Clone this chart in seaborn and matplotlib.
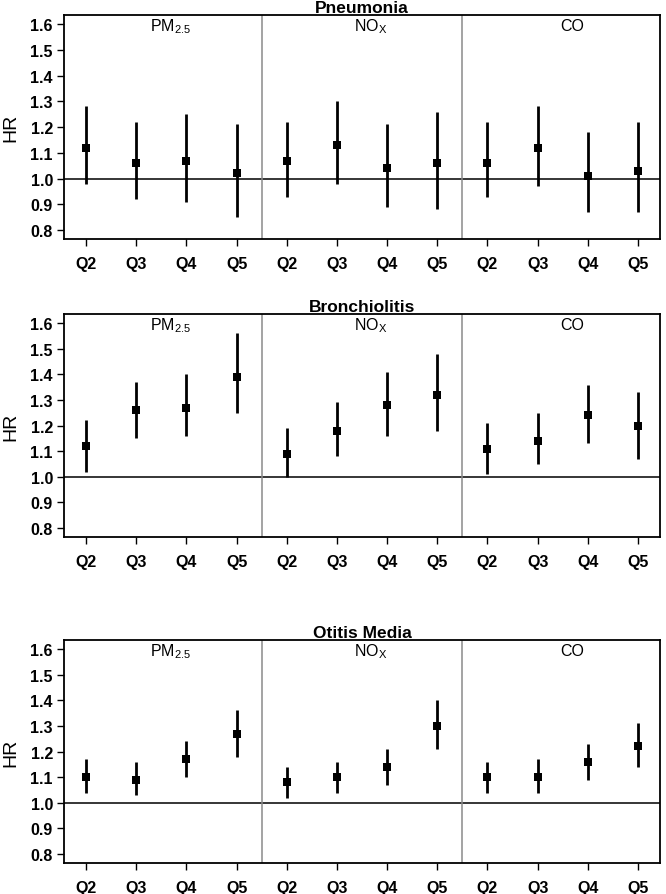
import matplotlib
matplotlib.use('Agg')
import matplotlib.pyplot as plt
import seaborn as sns
import pandas as pd

# quintile labels and pollutant groups
QUINTILES = ['Q2', 'Q3', 'Q4', 'Q5']
POLLUTANTS = [r'PM$_{2.5}$', r'NO$_{X}$', 'CO']
OUTCOMES = ['Pneumonia', 'Bronchiolitis', 'Otitis Media']

# hazard ratios (PM2.5 Q2-Q5, NOx Q2-Q5, CO Q2-Q5)
pneumonia_hr = [1.12, 1.06, 1.07, 1.02, 1.07, 1.13, 1.04, 1.06, 1.06, 1.12, 1.01, 1.03]
pneumonia_lo = [0.98, 0.92, 0.91, 0.85, 0.93, 0.98, 0.89, 0.88, 0.93, 0.97, 0.87, 0.87]
pneumonia_hi = [1.28, 1.22, 1.25, 1.21, 1.22, 1.30, 1.21, 1.26, 1.22, 1.28, 1.18, 1.22]

bronch_hr = [1.12, 1.26, 1.27, 1.39, 1.09, 1.18, 1.28, 1.32, 1.11, 1.14, 1.24, 1.20]
bronch_lo = [1.02, 1.15, 1.16, 1.25, 1.00, 1.08, 1.16, 1.18, 1.01, 1.05, 1.13, 1.07]
bronch_hi = [1.22, 1.37, 1.40, 1.56, 1.19, 1.29, 1.41, 1.48, 1.21, 1.25, 1.36, 1.33]

otitis_hr = [1.10, 1.09, 1.17, 1.27, 1.08, 1.10, 1.14, 1.30, 1.10, 1.10, 1.16, 1.22]
otitis_lo = [1.04, 1.03, 1.10, 1.18, 1.02, 1.04, 1.07, 1.21, 1.04, 1.04, 1.09, 1.14]
otitis_hi = [1.17, 1.16, 1.24, 1.36, 1.14, 1.16, 1.21, 1.40, 1.16, 1.17, 1.23, 1.31]

Y_TICKS = [0.8, 0.9, 1.0, 1.1, 1.2, 1.3, 1.4, 1.5, 1.6]

sns.set_style('ticks')
plt.rcParams['font.family'] = ['Liberation Sans', 'DejaVu Sans']
plt.rcParams['mathtext.default'] = 'regular'
for key in ['text.color', 'axes.labelcolor', 'xtick.color', 'ytick.color']:
    plt.rcParams[key] = 'black'

SERIES = [
    (pneumonia_hr, pneumonia_lo, pneumonia_hi),
    (bronch_hr, bronch_lo, bronch_hi),
    (otitis_hr, otitis_lo, otitis_hi),
]

# axes boxes in figure fraction: left, bottom, width, height
BOXES = [
    [0.0961, 0.7318, 0.8949, 0.2503],
    [0.0961, 0.3989, 0.8949, 0.2491],
    [0.0961, 0.0346, 0.8949, 0.2492],
]

fig = plt.figure(figsize=(6.66, 8.95), dpi=100)

for outcome, (hr, lo, hi), box in zip(OUTCOMES, SERIES, BOXES):
    ax = fig.add_axes(box)
    df = pd.DataFrame({
        'pos': range(len(hr)),
        'hr': hr, 'lo': lo, 'hi': hi,
    })

    ax.axhline(1.0, color='black', lw=1.1, zorder=1)
    for sep in [3.5, 7.5]:
        ax.axvline(sep, color='#8a8a8a', lw=1.1, zorder=1)

    ax.vlines(df['pos'], df['lo'], df['hi'], color='black', lw=2, zorder=2)
    sns.scatterplot(data=df, x='pos', y='hr', marker='s', s=34,
                    color='black', edgecolor='black', linewidth=0,
                    ax=ax, zorder=3)

    ax.set_xlim(-0.44, 11.44)
    ax.set_ylim(0.765, 1.635)
    ax.set_xticks(range(12))
    ax.set_xticklabels(QUINTILES * 3)
    ax.set_yticks(Y_TICKS)
    ax.set_yticklabels([f'{v:.1f}' for v in Y_TICKS])
    ax.tick_params(axis='both', length=5, width=1, color='black',
                   labelsize=11.5, pad=3)
    ax.tick_params(axis='x', pad=7)
    for lab in ax.get_xticklabels() + ax.get_yticklabels():
        lab.set_fontweight('bold')

    for spine in ax.spines.values():
        spine.set_visible(True)
        spine.set_color('black')
        spine.set_linewidth(1.3)

    ax.set_xlabel('')
    ax.set_ylabel('HR', fontsize=14, labelpad=8)
    ax.set_title(outcome, fontsize=12.5, fontweight='bold', pad=2)

    for i, name in enumerate(POLLUTANTS):
        ax.text(1.68 + 4 * i, 1.595, name, ha='center', va='center',
                fontsize=11.5)

fig.savefig('out.png', dpi=100, facecolor='white')
